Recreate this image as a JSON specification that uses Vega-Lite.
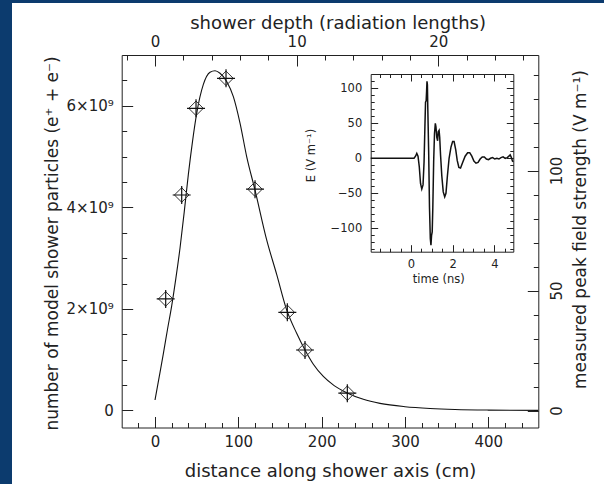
{
  "$schema": "https://vega.github.io/schema/vega-lite/v6.json",
  "width": 592,
  "height": 481,
  "autosize": "none",
  "padding": {"left": 12, "top": 3, "right": 0, "bottom": 0},
  "background": "#0c3b6e",
  "config": {
    "view": {"fill": "white", "stroke": null},
    "axis": {
      "grid": false,
      "domainColor": "#222",
      "tickColor": "#222",
      "labelColor": "#222",
      "titleColor": "#222",
      "labelFont": "DejaVu Sans",
      "titleFont": "DejaVu Sans",
      "titleFontWeight": "normal",
      "labelFlush": false,
      "labelOverlap": false,
      "domainWidth": 1,
      "tickWidth": 1
    }
  },
  "datasets": {
    "profile": [
      {"cm": 0, "particles": 207000000},
      {"cm": 5, "particles": 660000000},
      {"cm": 10, "particles": 1120000000},
      {"cm": 15, "particles": 1600000000},
      {"cm": 20, "particles": 2060000000},
      {"cm": 25, "particles": 2600000000},
      {"cm": 30, "particles": 3200000000},
      {"cm": 35, "particles": 3900000000},
      {"cm": 40, "particles": 4650000000},
      {"cm": 45, "particles": 5300000000},
      {"cm": 50, "particles": 5850000000},
      {"cm": 58, "particles": 6420000000},
      {"cm": 66, "particles": 6660000000},
      {"cm": 72, "particles": 6690000000},
      {"cm": 78, "particles": 6640000000},
      {"cm": 86, "particles": 6480000000},
      {"cm": 94, "particles": 6180000000},
      {"cm": 102, "particles": 5660000000},
      {"cm": 110, "particles": 5000000000},
      {"cm": 120, "particles": 4340000000},
      {"cm": 134, "particles": 3360000000},
      {"cm": 146, "particles": 2680000000},
      {"cm": 158, "particles": 1980000000},
      {"cm": 170, "particles": 1520000000},
      {"cm": 180, "particles": 1190000000},
      {"cm": 190, "particles": 910000000},
      {"cm": 202, "particles": 670000000},
      {"cm": 215, "particles": 490000000},
      {"cm": 230, "particles": 350000000},
      {"cm": 250, "particles": 220000000},
      {"cm": 270, "particles": 140000000},
      {"cm": 300, "particles": 75000000},
      {"cm": 330, "particles": 40000000},
      {"cm": 360, "particles": 20000000},
      {"cm": 400, "particles": 8000000},
      {"cm": 460, "particles": 2000000}
    ],
    "field": [
      {"cm": 12.8, "field": 46.5},
      {"cm": 32, "field": 89.8},
      {"cm": 49.2, "field": 125.9},
      {"cm": 85.2, "field": 138.4},
      {"cm": 120, "field": 92.2},
      {"cm": 158.8, "field": 40.9},
      {"cm": 180, "field": 25.2},
      {"cm": 230.8, "field": 7.2}
    ],
    "pulse": [
      {"t": -1.93, "E": 0}, {"t": 0.15, "E": 0}, {"t": 0.22, "E": 3}, {"t": 0.28, "E": 7},
      {"t": 0.34, "E": 3}, {"t": 0.4, "E": -12}, {"t": 0.46, "E": -36}, {"t": 0.52, "E": -44},
      {"t": 0.58, "E": -38}, {"t": 0.63, "E": -5}, {"t": 0.67, "E": 45}, {"t": 0.7, "E": 80},
      {"t": 0.73, "E": 82}, {"t": 0.75, "E": 95}, {"t": 0.77, "E": 110}, {"t": 0.79, "E": 105},
      {"t": 0.81, "E": 70}, {"t": 0.85, "E": 10}, {"t": 0.89, "E": -70}, {"t": 0.93, "E": -115},
      {"t": 0.96, "E": -124}, {"t": 0.99, "E": -110}, {"t": 1.02, "E": -105}, {"t": 1.05, "E": -70},
      {"t": 1.09, "E": -5}, {"t": 1.13, "E": 35}, {"t": 1.17, "E": 50}, {"t": 1.2, "E": 45},
      {"t": 1.24, "E": 30}, {"t": 1.28, "E": 25}, {"t": 1.31, "E": 38}, {"t": 1.35, "E": 40},
      {"t": 1.38, "E": 30}, {"t": 1.42, "E": 5}, {"t": 1.48, "E": -25}, {"t": 1.55, "E": -48},
      {"t": 1.62, "E": -55}, {"t": 1.68, "E": -50}, {"t": 1.75, "E": -25}, {"t": 1.83, "E": 0},
      {"t": 1.92, "E": 16}, {"t": 2.0, "E": 24}, {"t": 2.07, "E": 24}, {"t": 2.15, "E": 12},
      {"t": 2.22, "E": -3}, {"t": 2.3, "E": -13}, {"t": 2.38, "E": -14}, {"t": 2.48, "E": -6},
      {"t": 2.6, "E": 3}, {"t": 2.72, "E": 8}, {"t": 2.82, "E": 8}, {"t": 2.92, "E": 3},
      {"t": 3.02, "E": -4}, {"t": 3.12, "E": -7}, {"t": 3.22, "E": -6}, {"t": 3.32, "E": -1},
      {"t": 3.42, "E": 2}, {"t": 3.52, "E": 2}, {"t": 3.62, "E": -1}, {"t": 3.72, "E": -2},
      {"t": 3.82, "E": 0}, {"t": 3.92, "E": 1}, {"t": 4.02, "E": -1}, {"t": 4.12, "E": 0},
      {"t": 4.22, "E": -1}, {"t": 4.32, "E": 1}, {"t": 4.42, "E": 2}, {"t": 4.52, "E": 0},
      {"t": 4.62, "E": 1}, {"t": 4.7, "E": 3}, {"t": 4.76, "E": 5}, {"t": 4.82, "E": 1},
      {"t": 4.87, "E": -4}, {"t": 4.91, "E": -5}
    ]
  },
  "layer": [
    {
      "data": {"name": "profile"},
      "mark": {"type": "line", "color": "#111", "strokeWidth": 1.1, "interpolate": "monotone"},
      "encoding": {
        "x": {"field": "cm", "type": "quantitative",
          "scale": {"domain": [-40, 460], "range": [109.7, 526.3], "nice": false, "zero": false},
          "axis": {"orient": "bottom", "offset": -56.5, "values": [0, 100, 200, 300, 400], "tickSize": -11, "labelPadding": 18, "labelFontSize": 15, "labelBaseline": "top",
            "title": "distance along shower axis (cm)", "titleFontSize": 18, "titleBaseline": "alphabetic", "titleX": 318, "titleY": 49.3}},
        "y": {"field": "particles", "type": "quantitative",
          "scale": {"domain": [-335000000, 7000000000], "range": [424.5, 52], "nice": false, "zero": false},
          "axis": {"orient": "left", "offset": -109.7, "values": [0, 2000000000, 4000000000, 6000000000],
            "labelExpr": "datum.value == 0 ? '0' : format(datum.value / 1e9, 'd') + '×10⁹'",
            "tickSize": -11, "labelPadding": 19.4, "labelFontSize": 15, "labelBaseline": "middle",
            "title": "number of model shower particles (e⁺ + e⁻)", "titleFontSize": 17, "titleAngle": 270, "titleBaseline": "alphabetic", "titleX": -64.2, "titleY": 240}}
      }
    },
    {
      "data": {"values": [{}]},
      "mark": {"type": "point", "opacity": 0},
      "encoding": {
        "x": {"datum": 0, "type": "quantitative",
          "scale": {"domain": [-40, 460], "range": [109.7, 526.3], "nice": false, "zero": false},
          "axis": {"orient": "bottom", "offset": -56.5, "values": [-20, 20, 40, 60, 80, 120, 140, 160, 180, 220, 240, 260, 280, 320, 340, 360, 380, 420, 440], "tickSize": -5, "labels": false, "domain": false, "title": null}},
        "y": {"datum": 0, "type": "quantitative",
          "scale": {"domain": [-335000000, 7000000000], "range": [424.5, 52], "nice": false, "zero": false},
          "axis": {"orient": "left", "offset": -109.7, "values": [500000000, 1000000000, 1500000000, 2500000000, 3000000000, 3500000000, 4500000000, 5000000000, 5500000000, 6500000000], "tickSize": -5, "labels": false, "domain": false, "title": null}}
      }
    },
    {
      "data": {"name": "field"},
      "mark": {"type": "point", "shape": "diamond", "size": 210, "filled": false, "stroke": "#333", "strokeWidth": 1, "opacity": 1},
      "encoding": {
        "x": {"field": "cm", "type": "quantitative",
          "scale": {"domain": [-40, 460], "range": [109.7, 526.3], "nice": false, "zero": false}, "axis": null},
        "y": {"field": "field", "type": "quantitative",
          "scale": {"domain": [-7.083, 148.125], "range": [424.5, 52], "nice": false, "zero": false},
          "axis": {"orient": "right", "offset": -65.7, "values": [0, 50, 100], "tickSize": -11, "labelPadding": 22, "labelAngle": 270, "labelAlign": "center", "labelBaseline": "top", "labelFontSize": 15,
            "title": "measured peak field strength (V m⁻¹)", "titleFontSize": 17, "titleAngle": 270, "titleBaseline": "alphabetic", "titleX": 46.7, "titleY": 226}}
      }
    },
    {
      "data": {"name": "field"},
      "mark": {"type": "point", "shape": "M-1,0L1,0M0,-1L0,1", "size": 324, "filled": false, "stroke": "#111", "strokeWidth": 1.2, "opacity": 1},
      "encoding": {
        "x": {"field": "cm", "type": "quantitative",
          "scale": {"domain": [-40, 460], "range": [109.7, 526.3], "nice": false, "zero": false}, "axis": null},
        "y": {"field": "field", "type": "quantitative",
          "scale": {"domain": [-7.083, 148.125], "range": [424.5, 52], "nice": false, "zero": false},
          "axis": {"orient": "right", "offset": -65.7, "values": [10, 20, 30, 40, 60, 70, 80, 90, 110, 120, 130, 140], "tickSize": -5, "labels": false, "domain": false, "title": null}}
      }
    },
    {
      "data": {"values": [{}]},
      "mark": {"type": "point", "opacity": 0},
      "encoding": {
        "x": {"datum": 0, "type": "quantitative",
          "scale": {"domain": [-2.353, 27.059], "range": [109.7, 526.3], "nice": false, "zero": false},
          "axis": {"orient": "top", "offset": -52, "values": [0, 10, 20], "tickSize": -11, "labelPadding": 19.3, "labelBaseline": "alphabetic", "labelFontSize": 15,
            "title": "shower depth (radiation lengths)", "titleFontSize": 18, "titleBaseline": "alphabetic", "titleX": 325.6, "titleY": -26.7}},
        "y": {"datum": 0, "type": "quantitative",
          "scale": {"domain": [-133.4, 120.4], "range": [248.7, 71], "nice": false, "zero": false},
          "axis": {"orient": "left", "offset": -358.7, "values": [-100, -50, 0, 50, 100], "tickSize": -7, "labelPadding": 16, "labelFontSize": 11.5, "labelBaseline": "middle",
            "title": "E (V m⁻¹)", "titleFontSize": 11.5, "titleAngle": 270, "titleBaseline": "alphabetic", "titleX": -56.7, "titleY": 152}}
      }
    },
    {
      "data": {"values": [{}]},
      "mark": {"type": "point", "opacity": 0},
      "encoding": {
        "x": {"datum": 0, "type": "quantitative",
          "scale": {"domain": [-2.353, 27.059], "range": [109.7, 526.3], "nice": false, "zero": false},
          "axis": {"orient": "top", "offset": -52, "values": [-2, 2, 4, 6, 8, 12, 14, 16, 18, 22, 24, 26], "tickSize": -5, "labels": false, "domain": false, "title": null}},
        "y": {"datum": 0, "type": "quantitative",
          "scale": {"domain": [-133.4, 120.4], "range": [248.7, 71], "nice": false, "zero": false},
          "axis": {"orient": "left", "offset": -358.7, "values": [-130, -120, -110, -90, -80, -70, -60, -40, -30, -20, -10, 10, 20, 30, 40, 60, 70, 80, 90, 110], "tickSize": -3.5, "labels": false, "domain": false, "title": null}}
      }
    },
    {
      "data": {"name": "pulse"},
      "mark": {"type": "line", "color": "#111", "strokeWidth": 1.5},
      "encoding": {
        "x": {"field": "t", "type": "quantitative",
          "scale": {"domain": [-1.93, 4.91], "range": [358.7, 501.3], "nice": false, "zero": false},
          "axis": {"orient": "bottom", "offset": -232.3, "values": [0, 2, 4], "tickSize": -7, "labelPadding": 13.8, "labelFontSize": 11.5, "labelBaseline": "top",
            "title": "time (ns)", "titleFontSize": 11.5, "titleBaseline": "alphabetic", "titleX": 426.3, "titleY": 30.3}},
        "y": {"field": "E", "type": "quantitative",
          "scale": {"domain": [-133.4, 120.4], "range": [248.7, 71], "nice": false, "zero": false},
          "axis": {"orient": "right", "offset": -90.7, "values": [-100, -50, 0, 50, 100], "tickSize": -7, "labels": false, "title": null}}
      }
    },
    {
      "data": {"values": [{}]},
      "mark": {"type": "point", "opacity": 0},
      "encoding": {
        "x": {"datum": 0, "type": "quantitative",
          "scale": {"domain": [-1.93, 4.91], "range": [358.7, 501.3], "nice": false, "zero": false},
          "axis": {"orient": "bottom", "offset": -232.3, "values": [-1.5, -1, -0.5, 0.5, 1, 1.5, 2.5, 3, 3.5, 4.5], "tickSize": -3.5, "labels": false, "domain": false, "title": null}},
        "y": {"datum": 0, "type": "quantitative",
          "scale": {"domain": [-133.4, 120.4], "range": [248.7, 71], "nice": false, "zero": false},
          "axis": {"orient": "right", "offset": -90.7, "values": [-130, -120, -110, -90, -80, -70, -60, -40, -30, -20, -10, 10, 20, 30, 40, 60, 70, 80, 90, 110], "tickSize": -3.5, "labels": false, "domain": false, "title": null}}
      }
    },
    {
      "data": {"values": [{}]},
      "mark": {"type": "point", "opacity": 0},
      "encoding": {
        "x": {"datum": 0, "type": "quantitative",
          "scale": {"domain": [-1.93, 4.91], "range": [358.7, 501.3], "nice": false, "zero": false},
          "axis": {"orient": "top", "offset": -71, "values": [0, 2, 4], "tickSize": -7, "labels": false, "title": null}}
      }
    },
    {
      "data": {"values": [{}]},
      "mark": {"type": "point", "opacity": 0},
      "encoding": {
        "x": {"datum": 0, "type": "quantitative",
          "scale": {"domain": [-1.93, 4.91], "range": [358.7, 501.3], "nice": false, "zero": false},
          "axis": {"orient": "top", "offset": -71, "values": [-1.5, -1, -0.5, 0.5, 1, 1.5, 2.5, 3, 3.5, 4.5], "tickSize": -3.5, "labels": false, "domain": false, "title": null}}
      }
    }
  ],
  "resolve": {
    "scale": {"x": "independent", "y": "independent"},
    "axis": {"x": "independent", "y": "independent"}
  }
}
